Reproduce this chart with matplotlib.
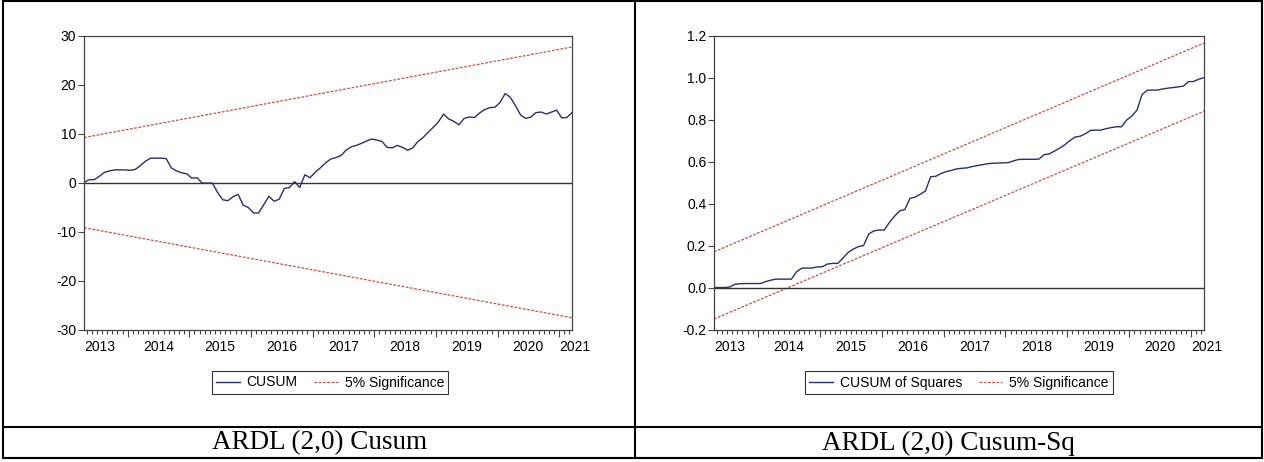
import matplotlib
matplotlib.use("Agg")
import matplotlib.pyplot as plt
import numpy as np
from matplotlib.lines import Line2D
from matplotlib.ticker import FixedLocator, NullFormatter

plt.rcParams["font.family"] = ["Liberation Sans", "DejaVu Sans"]
plt.rcParams["axes.unicode_minus"] = False

# monthly sample 2013M04 .. 2021M03
start_year, start_month = 2013, 4
years = [2013, 2014, 2015, 2016, 2017, 2018, 2019, 2020, 2021]

cusum = [0.0, 0.6, 0.6, 1.3, 2.1, 2.4, 2.6, 2.6, 2.6, 2.5,
         2.7, 3.5, 4.4, 5.0, 5.0, 5.0, 4.9, 3.0, 2.4, 2.0,
         1.8, 0.9, 1.0, -0.1, -0.1, -0.1, -2.0, -3.5, -3.7, -2.9,
         -2.4, -4.6, -5.1, -6.2, -6.2, -4.5, -2.8, -3.8, -3.4, -1.2,
         -1.0, 0.2, -1.0, 1.6, 1.0, 2.1, 3.0, 4.0, 4.8, 5.1,
         5.5, 6.6, 7.3, 7.6, 8.0, 8.5, 8.9, 8.7, 8.4, 7.2,
         7.1, 7.6, 7.2, 6.6, 7.1, 8.4, 9.2, 10.3, 11.3, 12.4,
         14.0, 13.0, 12.5, 11.8, 13.1, 13.4, 13.3, 14.2, 14.9, 15.3,
         15.4, 16.4, 18.2, 17.4, 15.7, 13.8, 13.1, 13.4, 14.3, 14.4,
         14.0, 14.4, 14.8, 13.2, 13.3, 14.3]
cusum_upper = [9.2, 27.7]     # 5% bands, first and last observation
cusum_lower = [-9.2, -27.6]

cusumsq = [0.000, 0.000, 0.000, 0.002, 0.015, 0.018, 0.019, 0.019, 0.019, 0.019,
           0.028, 0.035, 0.040, 0.040, 0.040, 0.040, 0.075, 0.092, 0.093, 0.093,
           0.098, 0.099, 0.112, 0.115, 0.115, 0.140, 0.167, 0.183, 0.195, 0.200,
           0.255, 0.270, 0.274, 0.274, 0.310, 0.340, 0.365, 0.372, 0.425, 0.431,
           0.445, 0.460, 0.528, 0.530, 0.543, 0.552, 0.558, 0.565, 0.568, 0.570,
           0.576, 0.581, 0.585, 0.590, 0.592, 0.593, 0.594, 0.595, 0.603, 0.610,
           0.611, 0.611, 0.611, 0.612, 0.633, 0.637, 0.650, 0.664, 0.680, 0.700,
           0.717, 0.721, 0.733, 0.749, 0.750, 0.750, 0.757, 0.762, 0.766, 0.766,
           0.798, 0.817, 0.845, 0.920, 0.940, 0.941, 0.941, 0.946, 0.950, 0.953,
           0.956, 0.960, 0.981, 0.982, 0.993, 1.000]
cusumsq_upper = [0.17, 1.165]
cusumsq_lower = [-0.15, 0.84]

NAVY = "#2a3070"
RED = "#c4504c"
W, H = 1264, 462


def eviews_panel(ax, series, upper, lower, name, yticks, yfmt):
    n = len(series)
    x = np.arange(n)
    ends = [x[0], x[-1]]
    ax.plot(x, series, color=NAVY, lw=1.0, label=name)
    ax.plot(ends, upper, color=RED, lw=0.9, ls=(0, (2.2, 1.2)), label="5% Significance")
    ax.plot(ends, lower, color=RED, lw=0.9, ls=(0, (2.2, 1.2)))
    ax.axhline(0, color="#333333", lw=1.0)

    ax.set_xlim(x[0], x[-1])
    ax.set_ylim(yticks[0], yticks[-1])
    ax.set_yticks(yticks)
    ax.set_yticklabels([yfmt.format(v) for v in yticks])

    # year boundaries (between Dec and Jan observations)
    jan = [(y - start_year) * 12 + 1 - start_month for y in years]
    bounds = [j - 0.5 for j in jan if x[0] < j - 0.5 < x[-1]]
    months = [m + 0.5 for m in range(n - 1)]
    ax.xaxis.set_major_locator(FixedLocator(bounds))
    ax.xaxis.set_minor_locator(FixedLocator(months))
    ax.xaxis.set_major_formatter(NullFormatter())
    ax.tick_params(axis="x", which="major", length=5, width=0.8, color="#444444")
    ax.tick_params(axis="x", which="minor", length=3, width=0.8, color="#444444")
    ax.tick_params(axis="y", length=4, width=0.8, color="#444444", labelsize=10, pad=1.5)

    for y, j in zip(years, jan):
        lo = max(j - 0.5, x[0])
        hi = min(j + 11.5, x[-1])
        if hi - lo >= 11.9:
            pos, ha = (lo + hi) / 2, "center"
        else:
            pos, ha = lo, "left"
        ax.annotate(str(y), xy=(pos, 0), xycoords=("data", "axes fraction"),
                    xytext=(0, -7.5), textcoords="offset points",
                    ha=ha, va="top", fontsize=10)

    for s in ax.spines.values():
        s.set_color("#444444")
        s.set_linewidth(0.9)


fig = plt.figure(figsize=(W / 100, H / 100), dpi=100)

ax1 = fig.add_axes([84 / W, 1 - 329.5 / H, 488 / W, 293.8 / H])
eviews_panel(ax1, cusum, cusum_upper, cusum_lower, "CUSUM",
             [-30, -20, -10, 0, 10, 20, 30], "{:.0f}")

ax2 = fig.add_axes([714 / W, 1 - 329.5 / H, 490 / W, 293.8 / H])
eviews_panel(ax2, cusumsq, cusumsq_upper, cusumsq_lower, "CUSUM of Squares",
             [-0.2, 0.0, 0.2, 0.4, 0.6, 0.8, 1.0, 1.2], "{:.1f}")

for ax, cx in [(ax1, 330), (ax2, 959)]:
    leg = ax.legend(loc="center", bbox_to_anchor=(cx / W, 1 - 382.5 / H),
                    bbox_transform=fig.transFigure, ncol=2, fontsize=10,
                    frameon=True, fancybox=False, borderpad=0.3,
                    handlelength=1.7, handletextpad=0.5, columnspacing=1.2,
                    borderaxespad=0)
    leg.get_frame().set_edgecolor("black")
    leg.get_frame().set_linewidth(0.8)

# table frame around the two panels
def hline(y, x0=3, x1=1262):
    fig.add_artist(Line2D([x0 / W, x1 / W], [1 - y / H, 1 - y / H],
                          transform=fig.transFigure, color="black", lw=1.5))

def vline(x, y0=1, y1=458):
    fig.add_artist(Line2D([x / W, x / W], [1 - y0 / H, 1 - y1 / H],
                          transform=fig.transFigure, color="black", lw=1.5))

hline(1)
hline(427)
hline(458)
vline(3)
vline(635)
vline(1262)

fig.text(319.5 / W, 1 - 443 / H, "ARDL (2,0) Cusum", ha="center", va="center",
         fontsize=19.5, family=["Liberation Serif", "DejaVu Serif"])
fig.text(948.5 / W, 1 - 443 / H, "ARDL (2,0) Cusum-Sq", ha="center", va="center",
         fontsize=19.5, family=["Liberation Serif", "DejaVu Serif"])

fig.savefig("out.png", dpi=100)
